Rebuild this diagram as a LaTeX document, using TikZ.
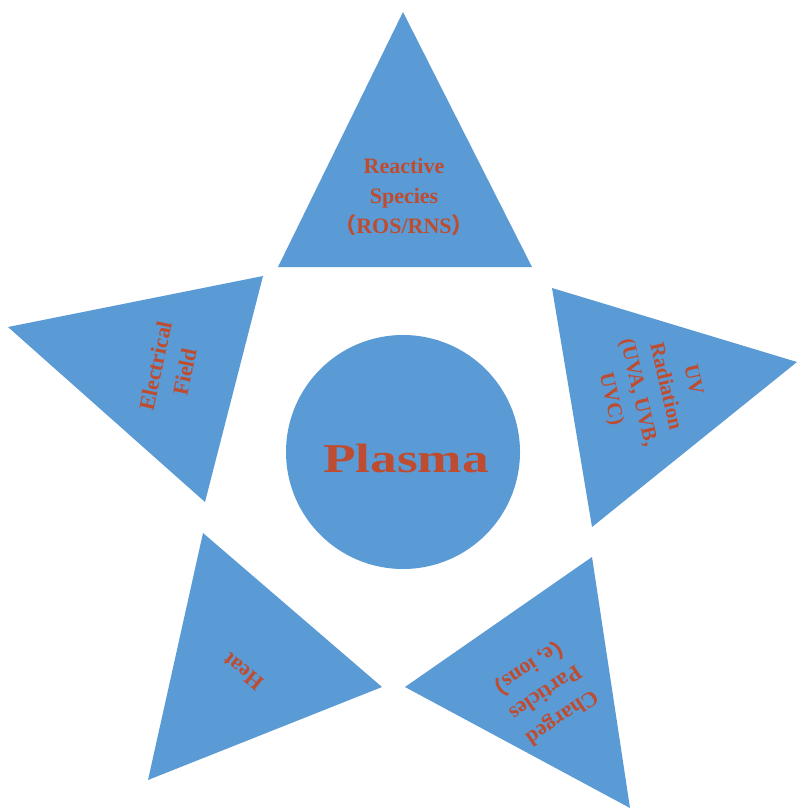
\documentclass[tikz,border=0pt]{standalone}
\usepackage{fontspec}
\setmainfont{Liberation Serif}
\newfontfamily\cjkfont{Noto Sans CJK SC}
\definecolor{starblue}{RGB}{91,155,213}
\definecolor{labred}{RGB}{190,76,48}
\begin{document}
\begin{tikzpicture}[x=1pt,y=-1pt,
  arm/.style={fill=starblue},
  lab/.style={text=labred, font=\bfseries\fontsize{22}{30}\selectfont, align=center, inner sep=0pt}]
\useasboundingbox (0,0) rectangle (797,810);
\fill[white] (0,0) rectangle (797,810);
% star arms
\fill[arm] (403,12) -- (278,267) -- (532,267) -- cycle;
\fill[arm] (8,327) -- (263,276) -- (205,502) -- cycle;
\fill[arm] (552,288) -- (797,362) -- (592,527) -- cycle;
\fill[arm] (203,533) -- (382,687) -- (148,780) -- cycle;
\fill[arm] (592,557) -- (405,687) -- (630,808) -- cycle;
% centre
\node[circle, fill=starblue, minimum size=234pt, inner sep=0pt] (plasma) at (403,452) {};
\node[text=labred, font=\bfseries\fontsize{41}{41}\selectfont, inner sep=0pt] (plasmatext) at (406,458) {\scalebox{1.3}[1]{Plasma}};
% labels
\node[lab] (reactive) at (404,197) {Reactive\\Species\\{\cjkfont （}ROS/RNS{\cjkfont ）}};
\node[lab, rotate=78] (efield) at (170,369) {Electrical\\Field};
\node[lab, font=\bfseries\fontsize{21}{28}\selectfont, rotate=-77] (uv) at (651,390) {UV\\Radiation\\(UVA, UVB,\\UVC)};
\node[lab, rotate=141] (heat) at (243,672) {Heat};
\node[lab, rotate=214] (charged) at (545,692) {Charged\\Particles\\{\cjkfont （}e, ions{\cjkfont ）}};
\end{tikzpicture}
\end{document}
